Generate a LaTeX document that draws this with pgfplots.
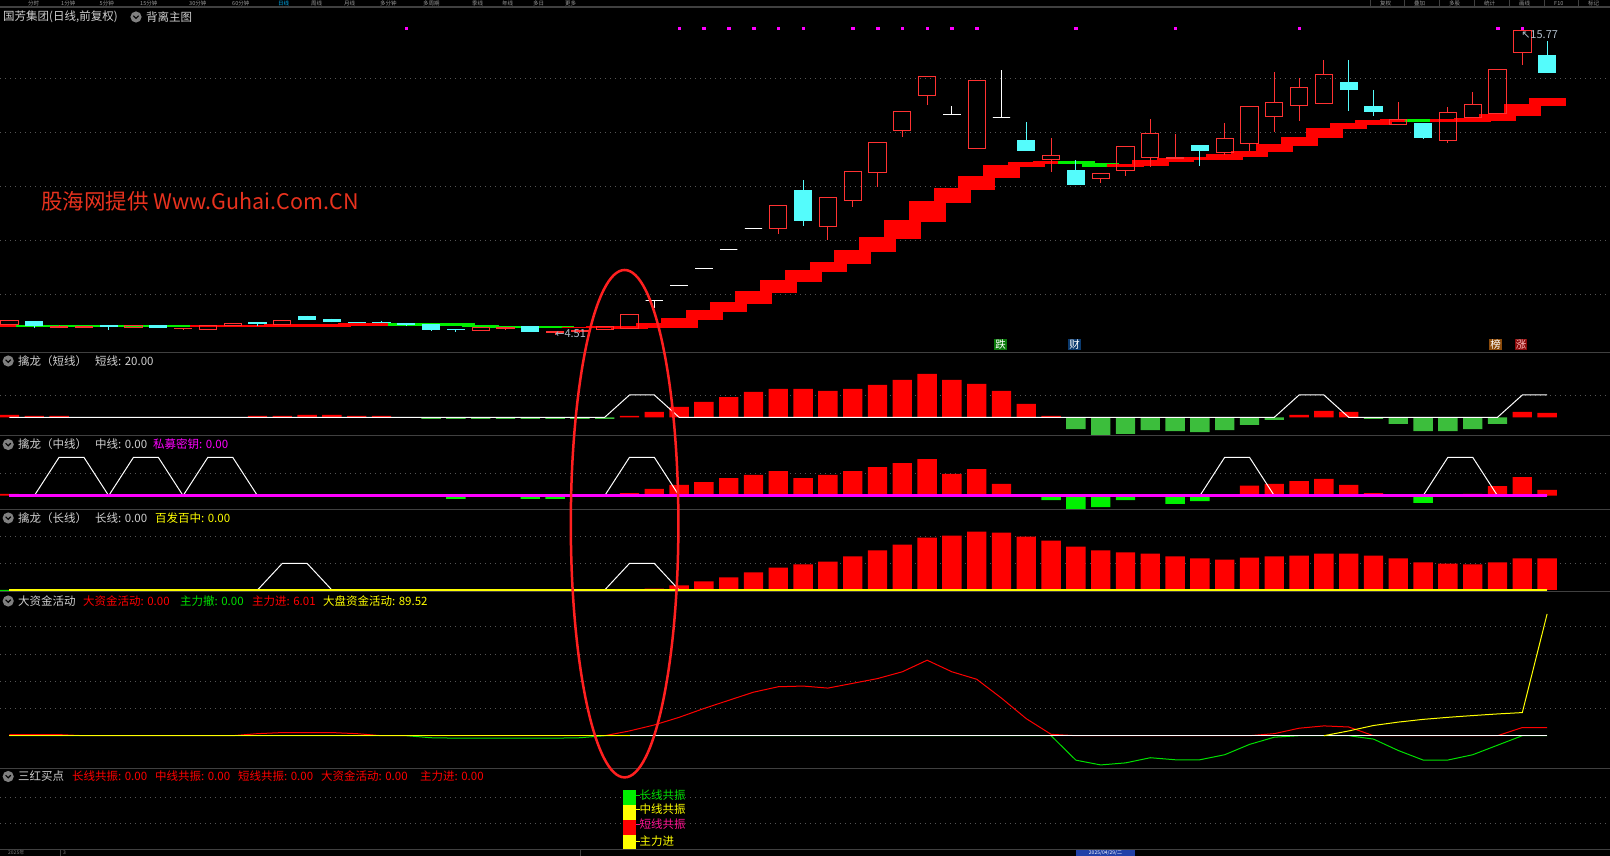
\documentclass[border=0pt]{standalone}
\usepackage{fontspec}
\setmainfont{Noto Sans CJK SC}
\newfontfamily\djv{DejaVu Sans}
\usepackage{pgfplots}
\pgfplotsset{compat=1.18}
\usepgfplotslibrary{statistics}
\definecolor{sepc}{HTML}{404040}
\definecolor{gridc}{HTML}{555555}
\definecolor{txt}{HTML}{D0D0D0}
\definecolor{cr}{HTML}{FF3232}
\definecolor{cc}{HTML}{54FCFC}
\definecolor{br}{HTML}{FF0000}
\definecolor{bgr}{HTML}{00F000}
\definecolor{g2}{HTML}{3CBE3C}
\definecolor{mag}{HTML}{FF00FF}
\definecolor{yel}{HTML}{FFFF00}
\definecolor{wm}{HTML}{E8321E}
\definecolor{lblc}{HTML}{B0BCC8}
\definecolor{iconc}{HTML}{808080}
\definecolor{cdie}{HTML}{0A780A}
\definecolor{ccai}{HTML}{0B3A6E}
\definecolor{cbang}{HTML}{8B4A0A}
\definecolor{czhang}{HTML}{8B0A0A}
\definecolor{datec}{HTML}{2040A8}
\definecolor{elc}{HTML}{FF2020}
\definecolor{tg}{HTML}{00E000}
\definecolor{pinkc}{HTML}{FF1493}
\newcommand{\tf}{\fontsize{11.5}{13}\selectfont}
\newcommand{\cu}[5]{\addplot[draw=cr, fill=none, line width=1pt, boxplot prepared={draw position=#1, lower whisker=#2, lower quartile=#3, median=#3, upper quartile=#4, upper whisker=#5}] coordinates {};}
\newcommand{\cd}[5]{\addplot[draw=cc, fill=cc, line width=1pt, boxplot prepared={draw position=#1, lower whisker=#2, lower quartile=#3, median=#3, upper quartile=#4, upper whisker=#5}] coordinates {};}
\newcommand{\cx}[4]{\addplot[draw=white, line width=1pt, boxplot prepared={draw position=#1, lower whisker=#2, lower quartile=#3, median=#3, upper quartile=#3, upper whisker=#4}] coordinates {};}
\newcommand{\bandr}[3]{\addplot[draw=br, fill=br, line width=0.6pt, boxplot prepared={draw position=#1, lower whisker=#2, lower quartile=#2, median=#2, upper quartile=#3, upper whisker=#3, box extend=1.45}] coordinates {};}
\newcommand{\bandg}[3]{\addplot[draw=bgr, fill=bgr, line width=0.6pt, boxplot prepared={draw position=#1, lower whisker=#2, lower quartile=#2, median=#2, upper quartile=#3, upper whisker=#3, box extend=1.45}] coordinates {};}
\newcommand{\ttl}[3]{\node[anchor=west, inner sep=0pt, text=#2, font=\tf] at (#1) {#3};}
\newcommand{\icon}[2]{\begin{scope}[shift={(#1pt,#2pt)}]\fill[iconc] (0pt,0pt) circle (5.6pt);\draw[black, line width=1.1pt] (-2.6pt,1.3pt) -- (0pt,-1.3pt) -- (2.6pt,1.3pt);\end{scope}}
\pgfplotsset{
 panel/.style={scale only axis, width=1610pt, xmin=-0.383, xmax=64.536, anchor=south west, clip=false,
  axis line style={draw=none}, xtick=\empty, yticklabels={}, ytick style={draw=none}, major tick length=0pt,
  ymajorgrids, grid style={draw=gridc, line width=0.9pt, dash pattern=on 1pt off 4pt}},
}
\begin{document}
\begin{tikzpicture}
\fill[black] (0pt,0pt) rectangle (1610pt,856pt);
% ================= main price panel =================
\begin{axis}[panel, at={(0pt,503.7pt)}, height=345.3pt, ymin=3.852, ymax=16.641, ytick={6,8,10,12,14},
  boxplot/draw direction=y, boxplot/box extend=0.70, boxplot/whisker extend=0]
\bandr{0}{4.81}{4.84}
\bandg{1}{4.80}{4.84}\bandg{2}{4.80}{4.84}\bandg{3}{4.80}{4.84}\bandg{4}{4.80}{4.84}
\bandg{5}{4.80}{4.84}\bandg{6}{4.80}{4.84}\bandg{7}{4.80}{4.84}
\bandr{8}{4.81}{4.86}\bandr{9}{4.81}{4.86}\bandr{10}{4.81}{4.86}
\bandr{11}{4.82}{4.88}\bandr{12}{4.82}{4.88}\bandr{13}{4.82}{4.88}
\bandr{14}{4.87}{4.93}\bandr{15}{4.87}{4.93}
\bandg{16}{4.87}{4.94}\bandg{17}{4.87}{4.94}\bandg{18}{4.85}{4.91}\bandg{19}{4.80}{4.86}
\bandg{20}{4.76}{4.82}\bandg{21}{4.76}{4.82}\bandg{22}{4.76}{4.82}
\bandr{23}{4.76}{4.79}\bandr{24}{4.78}{4.82}\bandr{25}{4.74}{4.82}
\bandr{26}{4.79}{4.94}\bandr{27}{4.79}{5.12}\bandr{28}{5.09}{5.42}\bandr{29}{5.38}{5.72}
\bandr{30}{5.68}{6.12}\bandr{31}{6.09}{6.53}\bandr{32}{6.49}{6.90}\bandr{33}{6.86}{7.20}
\bandr{34}{7.16}{7.64}\bandr{35}{7.60}{8.12}\bandr{36}{8.09}{8.75}\bandr{37}{8.72}{9.46}
\bandr{38}{9.42}{9.94}\bandr{39}{9.90}{10.38}\bandr{40}{10.34}{10.79}\bandr{41}{10.75}{10.90}
\bandr{42}{10.85}{10.94}
\bandg{43}{10.84}{10.94}\bandg{44}{10.75}{10.86}
\bandr{45}{10.75}{10.83}\bandr{46}{10.78}{10.97}\bandr{47}{10.93}{11.05}\bandr{48}{11.00}{11.09}
\bandr{49}{11.01}{11.17}\bandr{50}{11.12}{11.31}\bandr{51}{11.28}{11.57}\bandr{52}{11.53}{11.83}
\bandr{53}{11.80}{12.16}\bandr{54}{12.13}{12.34}\bandr{55}{12.31}{12.46}\bandr{56}{12.39}{12.49}
\bandg{57}{12.39}{12.49}
\bandr{58}{12.41}{12.48}\bandr{59}{12.42}{12.53}\bandr{60}{12.46}{12.68}\bandr{61}{12.64}{13.05}
\bandr{62}{13.01}{13.27}
% candles: up \cu{i}{L}{O}{C}{H}, down \cd{i}{L}{C}{O}{H}, doji \cx{i}{L}{O=C}{H}
\cu{0}{4.89}{4.89}{5.04}{5.04}
\cd{1}{4.76}{4.83}{5.01}{5.01}
\cu{2}{4.77}{4.77}{4.80}{4.86}
\cu{3}{4.77}{4.77}{4.80}{4.80}
\cd{4}{4.69}{4.82}{4.83}{4.83}
\cu{5}{4.77}{4.77}{4.86}{4.86}
\cd{6}{4.77}{4.77}{4.86}{4.86}
\cu{7}{4.69}{4.72}{4.75}{4.75}
\cu{8}{4.69}{4.69}{4.85}{4.85}
\cu{9}{4.84}{4.84}{4.93}{4.93}
\cd{10}{4.84}{4.92}{4.94}{4.94}
\cu{11}{4.89}{4.89}{5.04}{5.04}
\cd{12}{5.06}{5.06}{5.16}{5.21}
\cd{13}{4.96}{5.01}{5.05}{5.10}
\cd{14}{4.94}{4.94}{4.97}{4.97}
\cd{15}{4.94}{4.94}{4.97}{5.02}
\cd{16}{4.85}{4.87}{4.91}{4.91}
\cd{17}{4.65}{4.71}{4.87}{4.87}
\cd{18}{4.61}{4.69}{4.71}{4.71}
\cu{19}{4.65}{4.65}{4.78}{4.78}
\cu{20}{4.69}{4.75}{4.78}{4.78}
\cd{21}{4.64}{4.64}{4.79}{4.79}
\cu{22}{4.51}{4.58}{4.64}{4.64}
\cu{23}{4.60}{4.62}{4.66}{4.68}
\cu{24}{4.70}{4.70}{4.80}{4.80}
\cu{25}{4.74}{4.74}{5.26}{5.26}
\cx{26}{5.49}{5.78}{5.78}
\cx{27}{6.33}{6.33}{6.33}
\cx{28}{6.96}{6.96}{6.96}
\cx{29}{7.67}{7.67}{7.67}
\cx{30}{8.44}{8.44}{8.44}
\cu{31}{8.24}{8.43}{9.30}{9.30}
\cd{32}{8.54}{8.75}{9.83}{10.23}
\cu{33}{8.02}{8.50}{9.59}{9.59}
\cu{34}{9.24}{9.47}{10.56}{10.56}
\cu{35}{9.99}{10.50}{11.63}{11.63}
\cu{36}{11.84}{12.06}{12.78}{12.78}
\cu{37}{13.02}{13.36}{14.07}{14.07}
\cx{38}{12.67}{12.67}{12.97}
\cu{39}{11.39}{11.39}{13.93}{13.93}
\cx{40}{12.56}{12.56}{14.31}
\cd{41}{11.32}{11.32}{11.71}{12.38}
\cu{42}{10.53}{10.99}{11.15}{11.79}
\cd{43}{10.06}{10.06}{10.60}{10.97}
\cu{44}{10.11}{10.30}{10.46}{10.46}
\cu{45}{10.39}{10.58}{11.48}{11.48}
\cu{46}{10.73}{11.06}{11.96}{12.49}
\cu{47}{11.03}{11.03}{11.06}{11.94}
\cd{48}{10.76}{11.32}{11.52}{11.52}
\cu{49}{11.16}{11.24}{11.78}{12.34}
\cu{50}{11.32}{11.58}{12.96}{12.96}
\cu{51}{12.01}{12.58}{13.11}{14.23}
\cu{52}{12.43}{12.99}{13.67}{14.01}
\cu{53}{13.07}{13.07}{14.15}{14.68}
\cd{54}{12.80}{13.58}{13.86}{14.68}
\cd{55}{12.61}{12.76}{12.97}{13.57}
\cu{56}{12.28}{12.28}{12.48}{13.12}
\cd{57}{11.76}{11.80}{12.34}{12.34}
\cu{58}{11.61}{11.69}{12.74}{12.93}
\cu{59}{12.54}{12.54}{13.04}{13.49}
\cu{60}{12.70}{12.70}{14.33}{14.33}
\cu{61}{14.50}{14.96}{15.77}{15.77}
\cd{62}{14.21}{14.21}{14.83}{15.37}
\addplot[only marks, mark=square*, mark size=1.35pt, mag] coordinates {
(16,15.85) (27,15.85) (28,15.85) (29,15.85) (30,15.85) (31,15.85) (32,15.85) (34,15.85) (35,15.85)
(36,15.85) (37,15.85) (38,15.85) (39,15.85) (43,15.85) (47,15.85) (52,15.85) (60,15.85) (61,15.85)};
\node[anchor=west, inner sep=0pt, text=lblc, font=\fontsize{11}{12}\selectfont] at (axis cs:22.0,4.55) {{\djv ←}4.51};
\node[anchor=west, inner sep=0pt, text=lblc, font=\fontsize{11}{12}\selectfont] at (axis cs:60.95,15.62) {{\djv ↖}15.77};
\node[fill=cdie, text=white, inner sep=1pt, font=\fontsize{10.5}{11}\selectfont] at (axis cs:39.96,4.14) {跌};
\node[fill=ccai, text=white, inner sep=1pt, font=\fontsize{10.5}{11}\selectfont] at (axis cs:42.95,4.14) {财};
\node[fill=cbang, text=white, inner sep=1pt, font=\fontsize{10.5}{11}\selectfont] at (axis cs:59.92,4.14) {榜};
\node[fill=czhang, text=pink, inner sep=1pt, font=\fontsize{10.5}{11}\selectfont] at (axis cs:60.95,4.14) {涨};
\end{axis}
% ================= panel 2: short line =================
\begin{axis}[panel, at={(0pt,420.3pt)}, height=83.4pt, ymin=-16.50, ymax=58.30, ytick={20}]
\addplot[ybar, bar width=0.78, bar shift=0pt, fill=br, draw=none] coordinates {
(0,2.1) (1,1.2) (2,1.2) (10,1.2) (11,1.2) (12,2.1) (13,2.1) (14,1.2) (15,1.2)
(25,1.2) (26,4.8) (27,9.3) (28,13.8) (29,18.2) (30,22.7) (31,25.4) (32,25.4) (33,23.6) (34,25.4)
(35,29.0) (36,33.5) (37,38.9) (38,33.5) (39,29.9) (40,23.6) (41,12.0) (42,1.2)
(52,2.1) (53,5.7) (54,4.8) (61,4.8) (62,3.9)};
\addplot[ybar, bar width=0.78, bar shift=0pt, fill=g2, draw=none] coordinates {
(17,-1.5) (18,-1.5) (19,-1.5) (20,-1.5) (21,-1.5) (22,-1.5) (23,-1.5) (24,-1.5)
(43,-10.5) (44,-15.8) (45,-14.9) (46,-11.4) (47,-12.3) (48,-13.2) (49,-11.4) (50,-6.9) (51,-2.4)
(55,-1.5) (56,-6.0) (57,-12.3) (58,-12.3) (59,-10.5) (60,-6.0)};
\addplot[white, line width=1pt, sharp plot] coordinates {
(0,0) (24,0) (25,20) (26,20) (27,0) (51,0) (52,20) (53,20) (54,0) (60,0) (61,20) (62,20)};
\end{axis}
% ================= panel 3: mid line =================
\begin{axis}[panel, at={(0pt,346.7pt)}, height=73.6pt, ymin=-7.083, ymax=31.25, ytick={11.67}]
\addplot[ybar, bar width=0.78, bar shift=0pt, fill=br, draw=none] coordinates {
(0,0.9) (25,1.4) (26,3.5) (27,5.6) (28,7.1) (29,9.2) (30,10.8) (31,12.8) (32,9.2) (33,10.8)
(34,12.8) (35,14.9) (36,17.0) (37,19.1) (38,11.3) (39,13.9) (40,6.1)
(50,5.2) (51,6.1) (52,7.6) (53,8.7) (54,5.6) (55,1.4) (59,0.9) (60,5.0) (61,9.7) (62,3.0)};
\addplot[ybar, bar width=0.78, bar shift=0pt, fill=bgr, draw=none] coordinates {
(18,-1.6) (21,-1.6) (22,-1.6) (42,-2.3) (43,-6.9) (44,-5.9) (45,-2.3) (47,-4.3) (48,-2.8) (57,-3.8)};
\addplot[white, line width=1pt, sharp plot] coordinates {
(0,0) (1,0) (2,20) (3,20) (4,0) (5,20) (6,20) (7,0) (8,20) (9,20) (10,0) (24,0) (25,20) (26,20) (27,0)
(48,0) (49,20) (50,20) (51,0) (57,0) (58,20) (59,20) (60,0) (62,0)};
\addplot[mag, line width=2.5pt] coordinates {(0,0) (62,0)};
\end{axis}
% ================= panel 4: long line =================
\begin{axis}[panel, at={(0pt,264.7pt)}, height=82pt, ymin=-0.977, ymax=60.68, ytick={20,40}]
\addplot[ybar, bar width=0.78, bar shift=0pt, fill=br, draw=none] coordinates {
(11,0.7) (12,0.7) (13,0.7) (14,0.7) (15,0.7) (16,0.7) (17,0.7)
(26,1.1) (27,3.4) (28,6.4) (29,9.4) (30,13.2) (31,16.9) (32,19.2) (33,21.4) (34,25.2) (35,29.7)
(36,34.2) (37,39.4) (38,40.9) (39,43.9) (40,43.2) (41,40.2) (42,37.2) (43,32.7) (44,29.7) (45,28.2)
(46,27.4) (47,25.2) (48,23.7) (49,22.9) (50,24.4) (51,25.2) (52,25.9) (53,27.4) (54,27.4) (55,25.9)
(56,23.7) (57,20.7) (58,19.9) (59,19.2) (60,20.7) (61,23.7) (62,23.7)};
\addplot[ybar, bar width=0.78, bar shift=0pt, fill=tg, draw=none] coordinates {
(0,-0.7) (7,-0.7) (21,-0.7) (22,-0.7) (23,-0.7) (24,-0.7)};
\addplot[white, line width=1pt, sharp plot] coordinates {
(0,0) (10,0) (11,20) (12,20) (13,0) (24,0) (25,20) (26,20) (27,0) (62,0)};
\addplot[yel, line width=1.2pt] coordinates {(0,0) (62,0)};
\end{axis}
% ================= panel 5: big money =================
\begin{axis}[panel, at={(0pt,87.7pt)}, height=177pt, ymin=-23.97, ymax=106.18, ytick={20,40,60,80}]
\addplot[br, line width=1pt, sharp plot] coordinates {
(0,0.8) (1,0.8) (2,0.8) (3,0) (9,0) (10,1.5) (11,2.3) (12,2.3) (13,2.3) (14,1.5) (15,0) (24,0)
(25,3.5) (26,7.9) (27,13.5) (28,20) (29,26) (30,32) (31,36) (32,36.5) (33,35) (34,38.5) (35,42)
(36,47) (37,55.5) (38,47) (39,41.5) (40,27.6) (41,12.5) (42,1) (43,0) (50,0) (51,1.5) (52,5.5)
(53,7.2) (54,6.4) (55,0) (60,0) (61,6) (62,6.01)};
\addplot[tg, line width=1pt, sharp plot] coordinates {
(0,0) (16,0) (17,-1.5) (18,-1.8) (19,-1.8) (20,-1.8) (21,-1.8) (22,-1.8) (23,-1.5) (24,0) (42,0)
(43,-18) (44,-21.5) (45,-20) (46,-16.2) (47,-17.7) (48,-17.7) (49,-14) (50,-6.4) (51,-1.1) (52,0)
(54,0) (55,-2.5) (56,-10.9) (57,-17.9) (58,-17.9) (59,-14) (60,-7) (61,0) (62,0)};
\addplot[white, line width=1pt] coordinates {(0,0) (62,0)};
\addplot[yel, line width=1pt, sharp plot] coordinates {(0,0) (25,0)};
\addplot[yel, line width=1pt, sharp plot] coordinates {
(53,0) (54,3.5) (55,7.5) (56,10) (57,12) (58,13.5) (59,14.8) (60,16) (61,17) (62,89.52)};
\end{axis}
% ================= panel 6: three red buy points =================
\begin{axis}[panel, at={(0pt,6.7pt)}, height=81pt, ymin=0, ymax=5.49, ytick={1.74,3.5}, ybar stacked, bar width=0.51]
\addplot[fill=yel, draw=none] coordinates {(25,1)};
\addplot[fill=br, draw=none] coordinates {(25,1)};
\addplot[fill=yel, draw=none] coordinates {(25,1)};
\addplot[fill=bgr, draw=none] coordinates {(25,1)};
\node[anchor=west, inner sep=0pt, text=tg, font=\tf] at (axis cs:25.26,3.68) {\rule[4pt]{3.5pt}{0.8pt}长线共振};
\node[anchor=west, inner sep=0pt, text=yel, font=\tf] at (axis cs:25.26,2.73) {\rule[4pt]{3.5pt}{0.8pt}中线共振};
\node[anchor=west, inner sep=0pt, text=pinkc, font=\tf] at (axis cs:25.26,1.69) {\rule[4pt]{3.5pt}{0.8pt}短线共振};
\node[anchor=west, inner sep=0pt, text=yel, font=\tf] at (axis cs:25.26,0.56) {\rule[4pt]{3.5pt}{0.8pt}主力进};
\end{axis}
% ================= separators =================
\foreach \yy in {849,503.7,420.3,346.7,264.7,87.7,6.7} {\draw[sepc, line width=1.2pt] (0pt,\yy pt) -- (1610pt,\yy pt);}
% ================= titles =================
\ttl{3pt,839pt}{txt}{国芳集团(日线,前复权)}
\icon{136}{839}
\ttl{146pt,839pt}{txt}{背离主图}
\icon{8.2}{495}
\ttl{18pt,495pt}{txt}{擒龙（短线）}
\ttl{95pt,495pt}{txt}{短线: 20.00}
\icon{8.2}{411.5}
\ttl{18pt,411.5pt}{txt}{擒龙（中线）}
\ttl{95pt,411.5pt}{txt}{中线: 0.00}
\ttl{153pt,411.5pt}{mag}{私募密钥: 0.00}
\icon{8.2}{338}
\ttl{18pt,338pt}{txt}{擒龙（长线）}
\ttl{95pt,338pt}{txt}{长线: 0.00}
\ttl{155pt,338pt}{yel}{百发百中: 0.00}
\icon{8.2}{255}
\ttl{18pt,255pt}{txt}{大资金活动}
\ttl{83pt,255pt}{br}{大资金活动: 0.00}
\ttl{180pt,255pt}{tg}{主力撤: 0.00}
\ttl{252pt,255pt}{br}{主力进: 6.01}
\ttl{323pt,255pt}{yel}{大盘资金活动: 89.52}
\icon{8.2}{79.5}
\ttl{18pt,79.5pt}{txt}{三红买点}
\ttl{72pt,79.5pt}{br}{长线共振: 0.00}
\ttl{155pt,79.5pt}{br}{中线共振: 0.00}
\ttl{238pt,79.5pt}{br}{短线共振: 0.00}
\ttl{321pt,79.5pt}{br}{大资金活动: 0.00}
\ttl{420pt,79.5pt}{br}{主力进: 0.00}
% watermark
\node[anchor=west, inner sep=0pt, text=wm, font=\fontsize{21.5}{24}\selectfont] at (41pt,655pt) {股海网提供 Www.Guhai.Com.CN};
% top menu bar (small so that it fits in the strip)
\foreach \xx/\tt in {28/分时,61/1分钟,99.5/5分钟,140/15分钟,189/30分钟,232/60分钟,311/周线,344/月线,380/多分钟,423/多周期,472/季线,502/年线,533/多日,565/更多} {
 \node[anchor=base west, inner sep=0pt, text=gray!80, font=\fontsize{5.5}{6}\selectfont] at (\xx pt,850.6pt) {\tt};}
\node[anchor=base west, inner sep=0pt, text=cyan, font=\fontsize{5.5}{6}\selectfont] at (278pt,850.6pt) {日线};
\foreach \xx in {1370,1404,1439.5,1474,1509,1544,1578} {\draw[sepc, line width=1pt] (\xx pt,856pt) -- (\xx pt,849pt);}
\foreach \xx/\tt in {1380/复权,1414/叠加,1449/多股,1484/统计,1519/画线,1554/F10,1588/标记} {
 \node[anchor=base west, inner sep=0pt, text=gray!80, font=\fontsize{5.5}{6}\selectfont] at (\xx pt,850.6pt) {\tt};}
% bottom date bar (small so that it fits in the strip)
\node[anchor=base west, inner sep=0pt, text=gray, font=\fontsize{5}{6}\selectfont] at (8pt,1.2pt) {2025年};
\node[anchor=base west, inner sep=0pt, text=gray, font=\fontsize{5}{6}\selectfont] at (63pt,1.2pt) {3};
\draw[sepc, line width=1pt] (60pt,6.7pt) -- (60pt,0pt);
\draw[sepc, line width=1pt] (580pt,6.7pt) -- (580pt,0pt);
\fill[datec] (1076pt,0pt) rectangle (1135pt,6.1pt);
\node[anchor=base, inner sep=0pt, text=white, font=\fontsize{5}{6}\selectfont] at (1105.5pt,1.2pt) {2025/04/29/二};
% red ellipse annotation
\draw[elc, line width=2.5pt] (624.6pt,332.3pt) ellipse [x radius=53.8pt, y radius=253.7pt];
\pgfresetboundingbox
\path[use as bounding box] (0pt,0pt) rectangle (1610pt,856pt);
\end{tikzpicture}
\end{document}
